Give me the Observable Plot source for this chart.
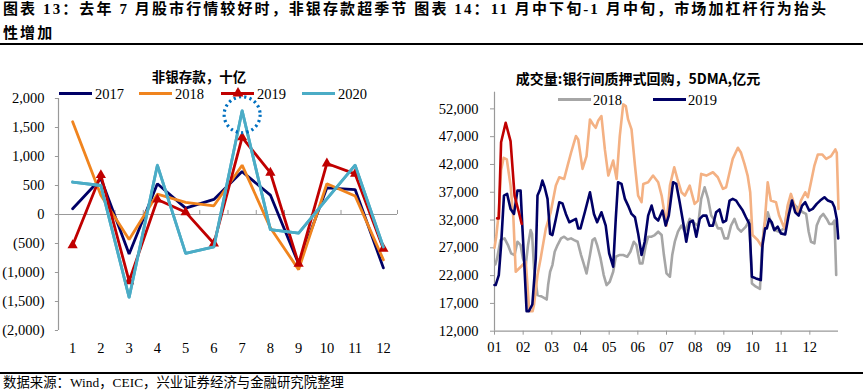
<!DOCTYPE html>
<html><head><meta charset="utf-8">
<script src="https://cdn.jsdelivr.net/npm/d3@7"></script>
<script src="https://cdn.jsdelivr.net/npm/@observablehq/plot@0.6"></script>
<style>
html,body{margin:0;padding:0;background:#fff;}
#page{position:relative;width:863px;height:390px;overflow:hidden;background:#fff;font-family:"Liberation Serif","Noto Sans CJK SC",serif;color:#000;}
.abs{position:absolute;white-space:nowrap;}
#title{left:3px;top:-2px;font-size:15px;font-weight:bold;line-height:23.5px;letter-spacing:2.1px;}
.rule{position:absolute;left:0;width:863px;height:1.5px;background:#000;}
#source{left:3px;top:375px;font-size:13.4px;line-height:15px;}
.ctitle{font-family:"Noto Sans CJK SC",sans-serif;font-weight:bold;font-size:14px;line-height:13px;transform:translate(-50%,-50%);}
.lg{position:absolute;height:3px;}
.lt{position:absolute;font-size:14.5px;line-height:12px;transform:translateY(-50%);}
svg [aria-label*="axis"] line, svg [aria-label*="axis tick"] path {stroke:#999;}
</style></head>
<body><div id="page">
<div id="title" class="abs">图表 13：去年 7 月股市行情较好时，非银存款超季节 图表 14：11 月中下旬-1 月中旬，市场加杠杆行为抬头<br>性增加</div>
<div class="rule" style="top:43px"></div>
<div id="left" class="abs" style="left:0;top:45px"></div>
<div id="right" class="abs" style="left:430px;top:45px"></div>
<div class="abs ctitle" style="left:199px;top:75.5px;font-size:13.5px">非银存款，十亿</div>
<div class="abs ctitle" style="left:638px;top:78px">成交量:银行间质押式回购，5DMA,亿元</div>
<div id="legendL"></div>
<div id="legendR"></div>
<div class="rule" style="top:372px"></div>
<div id="source" class="abs">数据来源：Wind，CEIC，兴业证券经济与金融研究院整理</div>
</div>
<script>
// ---------- Left chart data: 非银存款，十亿 ----------
const months = [1,2,3,4,5,6,7,8,9,10,11,12];
const yearsL = ["2017","2018","2019","2020"];
const colorsL = ["#000066","#F0841E","#C00000","#4BACC6"];
const dep2017 = [100, 620, -680, 530, 110, 260, 740, 335, -850, 460, 430, -920];
const dep2018 = [1600, 330, -430, 350, 210, 150, 850, -230, -950, 530, 320, -780];
const dep2019 = [-530, 680, -1150, 260, 40, -500, 1330, 720, -850, 880, 700, -590];
const dep2020 = [560, 500, -1430, 850, -670, -560, 1790, -260, -320, 270, 850, -560];
const yTicksL = [-2000,-1500,-1000,-500,0,500,1000,1500,2000];
const highlight = [{month: 7, value: 1720}];

// ---------- Right chart data: 成交量 银行间质押式回购 5DMA 亿元 (x = month position) ----------
const monthTicksR = [1,2,3,4,5,6,7,8,9,10,11,12];
const yTicksR = [12000,17000,22000,27000,32000,37000,42000,47000,52000];
const repo2018 = [[1.03,24000],[1.09,25100],[1.21,28400],[1.35,28700],[1.47,27500],[1.58,26000],[1.70,25700],[1.80,28100],[1.91,27500],[1.99,25100],[2.09,23900],[2.17,27500],[2.26,30200],[2.31,29500],[2.38,23300],[2.50,18500],[2.62,18300],[2.73,18000],[2.82,17700],[2.87,20300],[2.94,22700],[3.02,23900],[3.10,26300],[3.20,27500],[3.32,28700],[3.43,29000],[3.55,28500],[3.67,28700],[3.78,28400],[3.90,28100],[4.02,25700],[4.09,24500],[4.21,22400],[4.33,25700],[4.42,28400],[4.50,28700],[4.58,27500],[4.70,25100],[4.81,22100],[4.91,20300],[5.02,20900],[5.14,22700],[5.23,25400],[5.35,25700],[5.49,25700],[5.63,25400],[5.74,26300],[5.86,28100],[5.95,27500],[6.07,24200],[6.16,24200],[6.28,27500],[6.36,29000],[6.48,29000],[6.59,29300],[6.71,29900],[6.83,29300],[6.91,25700],[7.00,22400],[7.12,21800],[7.20,25700],[7.29,28100],[7.40,29900],[7.52,31000],[7.64,29900],[7.81,32200],[7.92,31600],[8.10,31000],[8.21,35800],[8.33,37900],[8.45,35800],[8.56,32800],[8.68,31900],[8.79,30500],[8.91,30500],[9.02,28700],[9.14,28700],[9.25,31000],[9.37,32200],[9.49,30500],[9.60,29900],[9.77,30800],[9.89,32000],[9.98,20600],[10.12,20000],[10.26,19600],[10.33,26900],[10.41,31000],[10.53,33400],[10.64,31600],[10.76,30200],[10.93,29900],[11.11,30500],[11.23,34300],[11.34,35500],[11.49,34600],[11.63,34000],[11.75,33400],[11.87,33100],[11.96,29900],[12.04,28100],[12.16,27800],[12.24,31000],[12.36,32500],[12.47,33100],[12.59,32200],[12.68,31300],[12.78,31300],[12.86,31900],[12.92,22100]];
const repo2019 = [[1.00,20300],[1.04,20300],[1.15,22100],[1.23,27500],[1.33,36400],[1.44,36700],[1.56,34000],[1.68,33100],[1.80,37300],[1.91,37300],[1.97,31000],[2.03,25100],[2.12,15600],[2.20,15600],[2.32,16800],[2.44,25100],[2.50,36400],[2.59,37500],[2.67,39100],[2.75,37900],[2.85,35800],[2.94,29500],[3.02,29300],[3.14,32200],[3.26,35200],[3.37,35000],[3.49,33100],[3.61,31600],[3.72,31900],[3.84,32200],[3.92,30500],[4.00,30500],[4.15,33400],[4.33,37000],[4.47,33100],[4.58,31600],[4.73,33400],[4.88,31000],[5.00,26000],[5.14,23600],[5.23,32200],[5.31,38800],[5.43,38500],[5.55,35800],[5.66,34600],[5.78,33100],[5.90,32500],[6.01,29600],[6.13,25700],[6.24,28100],[6.36,32800],[6.48,34600],[6.59,32500],[6.71,31900],[6.86,33700],[6.97,31000],[7.08,32800],[7.23,38800],[7.34,38500],[7.46,35200],[7.58,31600],[7.69,28100],[7.81,31600],[7.92,31900],[8.04,29000],[8.16,32200],[8.27,32800],[8.39,32800],[8.50,31000],[8.62,31000],[8.73,33400],[8.85,33900],[8.97,31600],[9.08,31900],[9.20,35500],[9.31,35800],[9.43,35500],[9.54,34600],[9.66,33700],[9.77,32500],[9.89,31300],[9.98,21800],[10.12,21500],[10.29,21200],[10.35,27500],[10.44,30500],[10.50,30500],[10.58,32200],[10.67,31600],[10.76,30200],[10.88,30800],[10.99,29600],[11.14,29400],[11.26,32800],[11.38,35500],[11.49,33400],[11.61,32800],[11.73,34600],[11.84,35200],[11.98,33700],[12.10,34000],[12.24,34900],[12.36,35500],[12.51,36100],[12.63,35500],[12.78,35200],[12.86,34300],[12.94,32200],[12.99,28700]];
const repo2020 = [[1.00,27000],[1.06,29000],[1.15,33400],[1.23,41000],[1.32,43200],[1.43,42900],[1.56,38200],[1.66,32200],[1.74,22700],[1.92,23600],[2.09,24500],[2.15,20300],[2.21,15600],[2.33,15600],[2.38,16800],[2.50,22100],[2.61,25100],[2.79,30450],[2.96,33400],[3.14,38200],[3.26,39700],[3.43,39400],[3.55,41800],[3.67,44100],[3.84,47100],[3.92,46500],[4.07,41200],[4.21,43500],[4.33,50100],[4.44,49200],[4.53,48600],[4.62,49900],[4.73,50700],[4.85,44700],[4.97,40000],[5.14,42700],[5.26,39400],[5.37,47100],[5.49,52800],[5.58,52500],[5.66,50100],[5.78,48300],[5.90,41800],[6.01,36400],[6.13,35200],[6.19,38500],[6.36,38800],[6.53,40000],[6.71,38800],[6.83,36400],[7.00,31000],[7.12,38200],[7.27,41500],[7.38,39400],[7.52,37000],[7.64,36400],[7.81,38200],[7.98,34900],[8.10,35500],[8.21,40300],[8.39,40000],[8.62,40600],[8.79,39700],[8.97,37600],[9.08,37900],[9.20,40600],[9.31,43000],[9.49,45000],[9.60,44100],[9.72,42100],[9.83,40000],[9.92,37000],[10.00,29300],[10.18,28400],[10.33,27200],[10.41,30400],[10.53,38800],[10.64,35500],[10.82,35200],[10.93,32800],[11.11,30500],[11.23,34700],[11.34,36700],[11.49,34300],[11.58,33100],[11.69,35500],[11.84,37000],[11.93,36100],[12.04,38800],[12.16,41800],[12.28,43800],[12.43,43800],[12.57,43000],[12.74,43500],[12.89,44700],[12.94,44100],[13.00,34000]];
const repo2021 = [[1.09,32300],[1.15,32300],[1.23,46000],[1.39,49500],[1.56,46200],[1.70,36400],[1.85,33400],[1.95,31300]];
const legendR = [{label:"2018", color:"#A6A6A6"},{label:"2019", color:"#000066"}];

// ---------- Left chart ----------
const seriesL = [dep2017, dep2018, dep2019, dep2020];
const rowsL = seriesL.flatMap((arr, i) => arr.map((v, j) => ({year: yearsL[i], month: months[j], value: v})));
const bounds = months.map(m => m + 0.5);
const fmtL = n => n < 0 ? `(${d3.format(",")(-n)})` : d3.format(",")(n);

const leftPlot = Plot.plot({
  width: 430, height: 315,
  marginLeft: 58, marginRight: 33, marginTop: 53, marginBottom: 30,
  style: {fontFamily: "Liberation Serif, serif", fontSize: "14.5px", color: "#000", background: "transparent", overflow: "visible"},
  x: {domain: [0.5, 12.5], ticks: months, tickSize: 0, tickPadding: 12, tickFormat: d => String(d), label: null},
  y: {domain: [-2000, 2000], ticks: yTicksL, tickSize: 0, tickPadding: 14, tickFormat: fmtL, label: null},
  marks: [
    Plot.ruleX([0.5], {stroke: "#999", strokeWidth: 1.2}),
    Plot.ruleY(yTicksL, {x1: 0.39, x2: 0.5, stroke: "#999"}),
    Plot.ruleY([0], {x1: 0.5, x2: 12.5, stroke: "#999", strokeWidth: 1.2}),
    Plot.ruleX(bounds, {y1: 0, y2: 70, stroke: "#999"}),
    ...yearsL.map((yr, i) => Plot.line(rowsL.filter(d => d.year === yr), {x: "month", y: "value", stroke: colorsL[i], strokeWidth: 2.8, strokeLinejoin: "miter"})),
    Plot.dot(rowsL.filter(d => d.year === "2019"), {x: "month", y: "value", symbol: "triangle", r: 3.8, fill: "#C00000"}),
    Plot.line(rowsL.filter(d => d.year === "2020"), {x: "month", y: "value", stroke: colorsL[3], strokeWidth: 2.8}),
    Plot.dot(highlight, {x: "month", y: "value", r: 18, stroke: "#0070C0", strokeWidth: 3.2, strokeDasharray: "2.2,3.2", fill: "none"})
  ]
});
document.getElementById("left").appendChild(leftPlot);

// ---------- Right chart ----------
const toRows = (arr, name) => arr.map(([m, v]) => ({series: name, m, v}));
const rightPlot = Plot.plot({
  width: 433, height: 315,
  marginLeft: 64, marginRight: 25, marginTop: 46.7, marginBottom: 29.3,
  style: {fontFamily: "Liberation Serif, serif", fontSize: "14.5px", color: "#000", background: "transparent", overflow: "visible"},
  x: {domain: [1, 13], ticks: monthTicksR, tickSize: 4, tickPadding: 7, tickFormat: d => String(d).padStart(2, "0"), label: null},
  y: {domain: [12000, 55000], ticks: yTicksR, tickSize: 4, tickPadding: 12, tickFormat: d3.format(","), label: null},
  marks: [
    Plot.ruleX([1], {stroke: "#999", strokeWidth: 1.2}),
    Plot.ruleY([12000], {stroke: "#999", strokeWidth: 1.2}),
    Plot.line(toRows(repo2018, "2018"), {x: "m", y: "v", stroke: "#A6A6A6", strokeWidth: 2.6}),
    Plot.line(toRows(repo2020, "2020"), {x: "m", y: "v", stroke: "#F4B183", strokeWidth: 2.6}),
    Plot.line(toRows(repo2019, "2019"), {x: "m", y: "v", stroke: "#000066", strokeWidth: 2.6}),
    Plot.line(toRows(repo2021, "2021"), {x: "m", y: "v", stroke: "#C00000", strokeWidth: 2.6})
  ]
});
document.getElementById("right").appendChild(rightPlot);

// ---------- Legends (HTML) ----------
const legL = document.getElementById("legendL");
const lgPosL = [59, 139, 221, 302];
yearsL.forEach((yr, i) => {
  const x = lgPosL[i];
  legL.insertAdjacentHTML("beforeend",
    `<div class="lg" style="left:${x}px;top:91.5px;width:33px;background:${colorsL[i]}"></div>` +
    `<div class="lt" style="left:${x+36}px;top:93.6px">${yr}</div>`);
  if (yr === "2019") {
    legL.insertAdjacentHTML("beforeend",
      `<svg style="position:absolute;left:${x+11}px;top:86px" width="12" height="12"><polygon points="6,1 11.5,10.5 0.5,10.5" fill="#C00000"/></svg>`);
  }
});
const legRDiv = document.getElementById("legendR");
const lgPosR = [558, 653];
legendR.forEach((d, i) => {
  const x = lgPosR[i];
  legRDiv.insertAdjacentHTML("beforeend",
    `<div class="lg" style="left:${x}px;top:98px;width:33px;background:${d.color}"></div>` +
    `<div class="lt" style="left:${x+35}px;top:99.5px">${d.label}</div>`);
});
</script>
</body></html>
